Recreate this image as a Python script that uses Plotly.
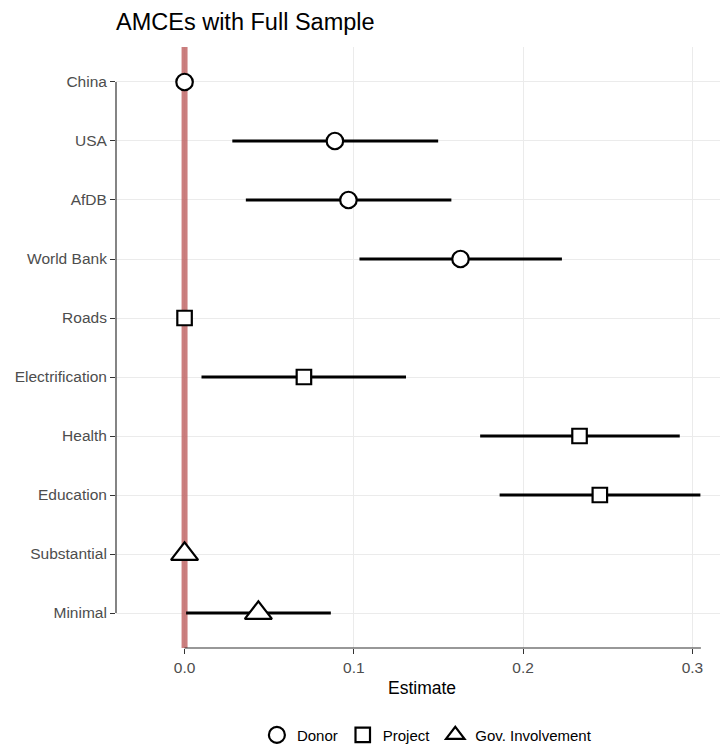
import plotly.graph_objects as go

categories = ["China", "USA", "AfDB", "World Bank", "Roads", "Electrification",
              "Health", "Education", "Substantial", "Minimal"]
groups = ["Donor", "Donor", "Donor", "Donor", "Project", "Project",
          "Project", "Project", "Gov. Involvement", "Gov. Involvement"]
estimate = [0.0, 0.0888, 0.0968, 0.1630, 0.0, 0.0705, 0.2333, 0.2453, 0.0, 0.0436]
lower = [0.0, 0.0282, 0.0362, 0.1033, 0.0, 0.0100, 0.1746, 0.1861, 0.0, 0.0009]
upper = [0.0, 0.1498, 0.1576, 0.2229, 0.0, 0.1308, 0.2925, 0.3047, 0.0, 0.0864]
x_ticks = [0.0, 0.1, 0.2, 0.3]
x_tick_labels = ["0.0", "0.1", "0.2", "0.3"]

symbols = {"Donor": "circle", "Project": "square", "Gov. Involvement": "triangle-up"}
sizes = {"Donor": 16.5, "Project": 14.5, "Gov. Involvement": 23.5}

ypos = list(range(len(categories)))
y_lo, y_hi = -0.593, len(categories) - 1 + 0.593

fig = go.Figure()

# reference line at zero (drawn as first trace so it sits above gridlines, below marks)
fig.add_trace(go.Scatter(x=[0, 0], y=[y_lo, y_hi], mode="lines", showlegend=False,
                         hoverinfo="skip",
                         line=dict(color="rgba(190,95,95,0.8)", width=6)))

for g in ["Donor", "Project", "Gov. Involvement"]:
    idx = [i for i, gg in enumerate(groups) if gg == g]
    xs = [estimate[i] for i in idx]
    ys = [ypos[i] for i in idx]
    plus = [upper[i] - estimate[i] for i in idx]
    minus = [estimate[i] - lower[i] for i in idx]
    fig.add_trace(go.Scatter(
        x=xs, y=ys, mode="markers", showlegend=False, hoverinfo="skip",
        marker=dict(size=1, color="rgba(0,0,0,0)"),
        error_x=dict(type="data", array=plus, arrayminus=minus, symmetric=False,
                     color="black", thickness=3.2, width=0),
    ))
    fig.add_trace(go.Scatter(
        x=xs, y=ys, mode="markers", name=g,
        marker=dict(symbol=symbols[g], size=sizes[g], color="white",
                    line=dict(color="black", width=2.2)),
    ))

# capped axis lines
fig.add_shape(type="line", xref="paper", yref="y", x0=0, x1=0, y0=0, y1=len(categories) - 1,
              line=dict(color="#333333", width=1.2))
fig.add_shape(type="line", xref="x", yref="paper", x0=0, x1=0.305, y0=0, y1=0,
              line=dict(color="#333333", width=1.2))

fig.update_layout(
    width=720, height=745,
    margin=dict(l=108, r=0, t=39, b=105),
    plot_bgcolor="white", paper_bgcolor="white",
    font=dict(family="Liberation Sans, Arial, sans-serif", color="black"),
    title=dict(text="AMCEs with Full Sample", x=0, xref="paper", xanchor="left",
               y=1 - 14 / 745, yanchor="middle", font=dict(size=23.5, color="black")),
    legend=dict(orientation="h", x=0.508, xanchor="center", y=-0.145, yanchor="middle",
                font=dict(size=15, color="black"), itemsizing="trace"),
    xaxis=dict(range=[-0.0405, 0.321], tickvals=x_ticks, ticktext=x_tick_labels,
               showgrid=True, gridcolor="#ebebeb", gridwidth=1, zeroline=False,
               showline=False, ticks="outside", ticklen=5, tickcolor="#333333",
               tickfont=dict(size=15.5, color="#4d4d4d"),
               title=dict(text="Estimate", font=dict(size=17.5, color="black"), standoff=7)),
    yaxis=dict(range=[y_hi, y_lo], tickvals=ypos, ticktext=categories,
               showgrid=True, gridcolor="#ebebeb", gridwidth=1,
               zeroline=False, showline=False, ticks="outside", ticklen=5,
               tickcolor="#333333", tickfont=dict(size=15.5, color="#4d4d4d")),
)

fig.write_html("out.html")
